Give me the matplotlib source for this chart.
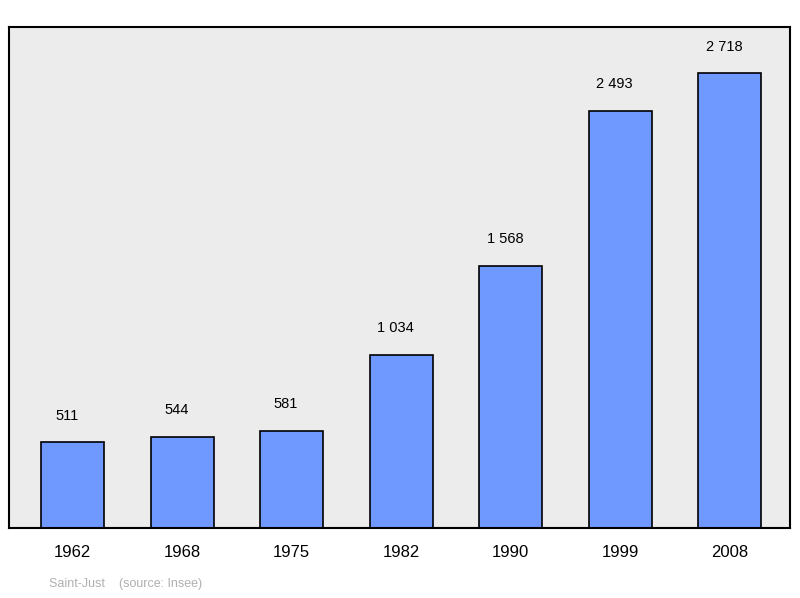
import matplotlib
matplotlib.use('Agg')
import matplotlib.pyplot as plt

years = ['1962', '1968', '1975', '1982', '1990', '1999', '2008']
population = [511, 544, 581, 1034, 1568, 2493, 2718]
labels = ['511', '544', '581', '1 034', '1 568', '2 493', '2 718']

plt.rcParams['font.family'] = ['Liberation Sans', 'DejaVu Sans']

fig = plt.figure(figsize=(8, 5.98), dpi=100)
ax = fig.add_axes([9/800, 70/598, 781/800, 501/598])
ax.set_facecolor('#ececec')

x = range(len(years))
ax.bar(x, population, width=0.575, color='#7099ff', edgecolor='black', linewidth=1.2, zorder=2)
for xi, v, lab in zip(x, population, labels):
    ax.annotate(lab, (xi, v), xytext=(-4, 14), textcoords='offset points',
                ha='center', va='bottom', fontsize=10.5)

ax.set_xlim(-0.58, 6.55)
ax.set_ylim(0, 2993)
ax.set_yticks([])
ax.set_xticks(list(x))
ax.set_xticklabels(years, fontsize=12)
ax.tick_params(axis='x', length=0, pad=12)
for s in ax.spines.values():
    s.set_linewidth(1.5)

fig.text(49/800, 1 - 584/598, 'Saint-Just    (source: Insee)', color='#b0b0b0',
         fontsize=9, va='center', ha='left')

fig.savefig('out.png', dpi=100)
